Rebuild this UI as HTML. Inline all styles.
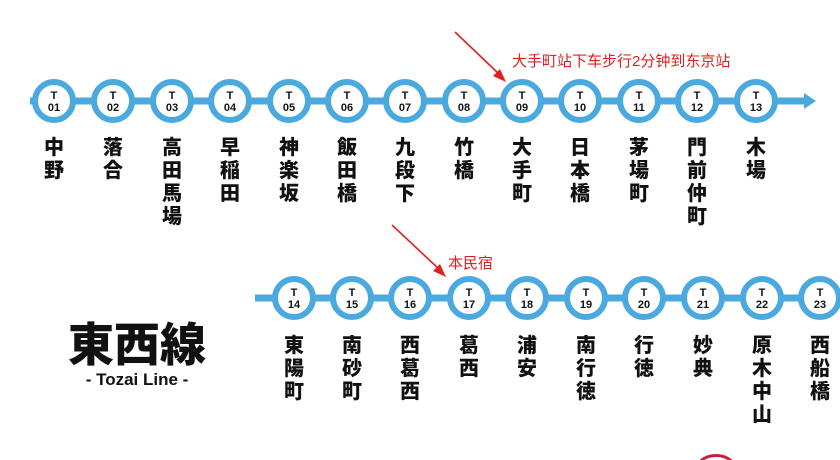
<!DOCTYPE html>
<html><head><meta charset="utf-8"><style>
html,body{margin:0;padding:0;background:#fff;width:840px;height:460px;overflow:hidden}
svg{display:block}
.c{fill:#fff;stroke:#4aa9de;stroke-width:6}
.t{font-family:"Liberation Sans",sans-serif;font-weight:bold;font-size:11px;fill:#111;text-anchor:middle}
.s{font-family:"Liberation Sans","Noto Sans CJK JP",sans-serif;font-weight:900;font-size:20px;fill:#111;text-anchor:middle}
.r{font-family:"Liberation Sans","Noto Sans CJK SC",sans-serif;font-size:15px;fill:#e02020}
</style></head><body>
<svg width="840" height="460" viewBox="0 0 840 460">
<!-- top line -->
<line x1="30" y1="101" x2="806" y2="101" stroke="#4aa9de" stroke-width="7"/>
<polygon points="804,93 816,101 804,109" fill="#4aa9de"/>
<g>
<circle class="c" cx="54" cy="101" r="19"/><circle class="c" cx="113" cy="101" r="19"/><circle class="c" cx="172" cy="101" r="19"/><circle class="c" cx="230" cy="101" r="19"/><circle class="c" cx="289" cy="101" r="19"/><circle class="c" cx="347" cy="101" r="19"/><circle class="c" cx="405" cy="101" r="19"/><circle class="c" cx="464" cy="101" r="19"/><circle class="c" cx="522" cy="101" r="19"/><circle class="c" cx="580" cy="101" r="19"/><circle class="c" cx="639" cy="101" r="19"/><circle class="c" cx="697" cy="101" r="19"/><circle class="c" cx="756" cy="101" r="19"/>
</g>
<g class="t">
<text class="t" x="54" y="99">T</text><text class="t" x="54" y="111">01</text>
<text class="t" x="113" y="99">T</text><text class="t" x="113" y="111">02</text>
<text class="t" x="172" y="99">T</text><text class="t" x="172" y="111">03</text>
<text class="t" x="230" y="99">T</text><text class="t" x="230" y="111">04</text>
<text class="t" x="289" y="99">T</text><text class="t" x="289" y="111">05</text>
<text class="t" x="347" y="99">T</text><text class="t" x="347" y="111">06</text>
<text class="t" x="405" y="99">T</text><text class="t" x="405" y="111">07</text>
<text class="t" x="464" y="99">T</text><text class="t" x="464" y="111">08</text>
<text class="t" x="522" y="99">T</text><text class="t" x="522" y="111">09</text>
<text class="t" x="580" y="99">T</text><text class="t" x="580" y="111">10</text>
<text class="t" x="639" y="99">T</text><text class="t" x="639" y="111">11</text>
<text class="t" x="697" y="99">T</text><text class="t" x="697" y="111">12</text>
<text class="t" x="756" y="99">T</text><text class="t" x="756" y="111">13</text>
</g>
<text class="s" x="54" y="154">中<tspan x="54" dy="23">野</tspan></text>
<text class="s" x="113" y="154">落<tspan x="113" dy="23">合</tspan></text>
<text class="s" x="172" y="154">高<tspan x="172" dy="23">田</tspan><tspan x="172" dy="23">馬</tspan><tspan x="172" dy="23">場</tspan></text>
<text class="s" x="230" y="154">早<tspan x="230" dy="23">稲</tspan><tspan x="230" dy="23">田</tspan></text>
<text class="s" x="289" y="154">神<tspan x="289" dy="23">楽</tspan><tspan x="289" dy="23">坂</tspan></text>
<text class="s" x="347" y="154">飯<tspan x="347" dy="23">田</tspan><tspan x="347" dy="23">橋</tspan></text>
<text class="s" x="405" y="154">九<tspan x="405" dy="23">段</tspan><tspan x="405" dy="23">下</tspan></text>
<text class="s" x="464" y="154">竹<tspan x="464" dy="23">橋</tspan></text>
<text class="s" x="522" y="154">大<tspan x="522" dy="23">手</tspan><tspan x="522" dy="23">町</tspan></text>
<text class="s" x="580" y="154">日<tspan x="580" dy="23">本</tspan><tspan x="580" dy="23">橋</tspan></text>
<text class="s" x="639" y="154">茅<tspan x="639" dy="23">場</tspan><tspan x="639" dy="23">町</tspan></text>
<text class="s" x="697" y="154">門<tspan x="697" dy="23">前</tspan><tspan x="697" dy="23">仲</tspan><tspan x="697" dy="23">町</tspan></text>
<text class="s" x="756" y="154">木<tspan x="756" dy="23">場</tspan></text>

<!-- annotation 1 -->
<line x1="455" y1="32" x2="500" y2="75" stroke="#e02020" stroke-width="1.6"/>
<polygon points="506,82 493,76 500,69" fill="#e02020"/>
<text class="r" x="512" y="66">大手町站下车步行2分钟到东京站</text>

<!-- bottom line -->
<line x1="255" y1="298" x2="840" y2="298" stroke="#4aa9de" stroke-width="7"/>
<circle class="c" cx="294" cy="298" r="19"/><circle class="c" cx="352" cy="298" r="19"/><circle class="c" cx="410" cy="298" r="19"/><circle class="c" cx="469" cy="298" r="19"/><circle class="c" cx="527" cy="298" r="19"/><circle class="c" cx="586" cy="298" r="19"/><circle class="c" cx="644" cy="298" r="19"/><circle class="c" cx="703" cy="298" r="19"/><circle class="c" cx="762" cy="298" r="19"/><circle class="c" cx="820" cy="298" r="19"/>
<text class="t" x="294" y="296">T</text><text class="t" x="294" y="308">14</text>
<text class="t" x="352" y="296">T</text><text class="t" x="352" y="308">15</text>
<text class="t" x="410" y="296">T</text><text class="t" x="410" y="308">16</text>
<text class="t" x="469" y="296">T</text><text class="t" x="469" y="308">17</text>
<text class="t" x="527" y="296">T</text><text class="t" x="527" y="308">18</text>
<text class="t" x="586" y="296">T</text><text class="t" x="586" y="308">19</text>
<text class="t" x="644" y="296">T</text><text class="t" x="644" y="308">20</text>
<text class="t" x="703" y="296">T</text><text class="t" x="703" y="308">21</text>
<text class="t" x="762" y="296">T</text><text class="t" x="762" y="308">22</text>
<text class="t" x="820" y="296">T</text><text class="t" x="820" y="308">23</text>

<text class="s" x="294" y="352">東<tspan x="294" dy="23">陽</tspan><tspan x="294" dy="23">町</tspan></text>
<text class="s" x="352" y="352">南<tspan x="352" dy="23">砂</tspan><tspan x="352" dy="23">町</tspan></text>
<text class="s" x="410" y="352">西<tspan x="410" dy="23">葛</tspan><tspan x="410" dy="23">西</tspan></text>
<text class="s" x="469" y="352">葛<tspan x="469" dy="23">西</tspan></text>
<text class="s" x="527" y="352">浦<tspan x="527" dy="23">安</tspan></text>
<text class="s" x="586" y="352">南<tspan x="586" dy="23">行</tspan><tspan x="586" dy="23">徳</tspan></text>
<text class="s" x="644" y="352">行<tspan x="644" dy="23">徳</tspan></text>
<text class="s" x="703" y="352">妙<tspan x="703" dy="23">典</tspan></text>
<text class="s" x="762" y="352">原<tspan x="762" dy="23">木</tspan><tspan x="762" dy="23">中</tspan><tspan x="762" dy="23">山</tspan></text>
<text class="s" x="820" y="352">西<tspan x="820" dy="23">船</tspan><tspan x="820" dy="23">橋</tspan></text>

<!-- annotation 2 -->
<line x1="392" y1="225" x2="440" y2="270" stroke="#e02020" stroke-width="1.6"/>
<polygon points="446,277 433,271 440,264" fill="#e02020"/>
<text class="r" x="448" y="268">本民宿</text>

<!-- title -->
<text x="137" y="361" text-anchor="middle" style="font-family:'Liberation Sans','Noto Sans CJK JP',sans-serif;font-weight:900;font-size:46px;fill:#111">東西線</text>
<text x="137" y="385" text-anchor="middle" style="font-family:'Liberation Sans',sans-serif;font-weight:bold;font-size:17px;fill:#111">- Tozai Line -</text>

<!-- partial red logo -->
<path d="M700,462 A18,12 0 0 1 732,462" fill="none" stroke="#c8203a" stroke-width="3"/>
</svg>
</body></html>
